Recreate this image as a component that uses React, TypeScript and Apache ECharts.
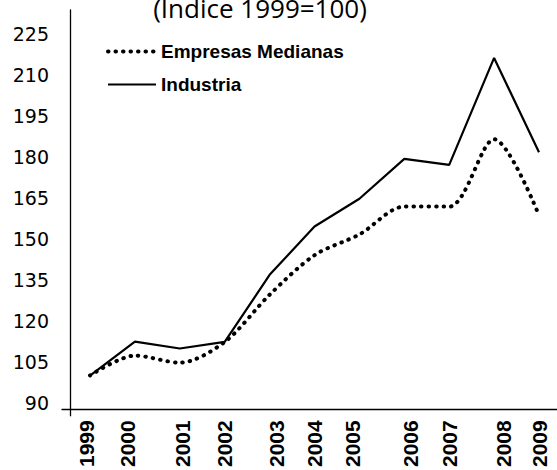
import React, { useEffect, useRef } from 'react';
import * as echarts from 'echarts';

const years = [1999, 2000, 2001, 2002, 2003, 2004, 2005, 2006, 2007, 2008, 2009];
const yearLabels = ['1999', '2000', '2001', '2002', '2003', '2004', '2005', '2006', '2007', '2008', '2009'];
const yearLabelPositions = [1998.911, 1999.835, 2001.06, 2001.996, 2003.143, 2003.989, 2004.846, 2006.149, 2006.996, 2008.22, 2009.022];
const yTickLabels = [90, 105, 120, 135, 150, 165, 180, 195, 210, 225];
const medianas = [100, 107.3, 104.7, 112.3, 129.6, 144.1, 151.7, 161.9, 161.9, 186.6, 158.7];
const industria = [100, 112.4, 109.9, 112.3, 136.9, 154.6, 164.8, 179.4, 177.2, 216.4, 181.8];

const X_MIN = 1998.376;
const X_MAX = 2009.401;
const Y_AXIS_AT = 1998.5546;
const Y_MIN = 87.62;
const Y_MAX = 233.96;

const dottedStyle = { color: '#000', width: 4, type: [0.5, 7], cap: 'round' };
const solidStyle = { color: '#000', width: 2.2 };

export default function App() {
  const ref = useRef<HTMLDivElement>(null);
  useEffect(() => {
    if (!ref.current) return;
    const chart = echarts.init(ref.current, null, { renderer: 'svg' });
    const nearestLabel = (v: number) => {
      let best = 0;
      let bd = Infinity;
      yearLabelPositions.forEach((p, i) => {
        const d = Math.abs(p - v);
        if (d < bd) { bd = d; best = i; }
      });
      return yearLabels[best];
    };
    chart.setOption({
      animation: false,
      backgroundColor: '#ffffff',
      graphic: [
        {
          type: 'text',
          x: 260,
          y: 8,
          style: {
            text: '(Indice 1999=100)',
            fontFamily: 'Open Sans',
            fontSize: 26,
            fill: '#000',
            textAlign: 'center',
            textVerticalAlign: 'middle',
          },
        },
      ],
      legend: {
        orient: 'vertical',
        left: 101,
        top: 37,
        itemWidth: 48,
        itemHeight: 10,
        itemGap: 14,
        itemStyle: { opacity: 0 },
        textStyle: {
          fontFamily: 'Liberation Sans',
          fontWeight: 'bold',
          fontSize: 19,
          color: '#000',
          lineHeight: 19,
        },
        data: [
          { name: 'Empresas Medianas', lineStyle: dottedStyle },
          { name: 'Industria', lineStyle: solidStyle },
        ],
      },
      grid: { left: 62, right: 0, top: 10, bottom: 58, containLabel: false },
      xAxis: {
        type: 'value',
        min: X_MIN,
        max: X_MAX,
        axisLine: { show: true, lineStyle: { color: '#000', width: 1.3 } },
        axisTick: { show: true, customValues: [Y_AXIS_AT], length: 7, lineStyle: { color: '#000', width: 1.3 } },
        splitLine: { show: false },
        axisLabel: {
          customValues: yearLabelPositions,
          rotate: 90,
          margin: 11,
          fontFamily: 'Liberation Sans',
          fontWeight: 'bold',
          fontSize: 21,
          color: '#000',
          formatter: (v: number) => nearestLabel(v),
        },
      },
      yAxis: {
        type: 'value',
        min: Y_MIN,
        max: Y_MAX,
        offset: -8,
        axisLine: { show: true, lineStyle: { color: '#000', width: 1.3 } },
        axisTick: { show: false },
        splitLine: { show: false },
        axisLabel: {
          customValues: yTickLabels,
          margin: 21,
          fontFamily: 'DejaVu Sans',
          fontSize: 19,
          color: '#000',
        },
      },
      series: [
        {
          name: 'Empresas Medianas',
          type: 'line',
          data: years.map((y, i) => [y, medianas[i]]),
          symbol: 'none',
          smooth: 0.3,
          lineStyle: dottedStyle,
          itemStyle: { color: '#000' },
        },
        {
          name: 'Industria',
          type: 'line',
          data: years.map((y, i) => [y, industria[i]]),
          symbol: 'none',
          lineStyle: solidStyle,
          itemStyle: { color: '#000' },
        },
      ],
    });
    return () => chart.dispose();
  }, []);
  return (
    <div
      ref={ref}
      style={{ position: 'fixed', left: 0, top: 0, width: 557, height: 470, background: '#fff' }}
    />
  );
}
